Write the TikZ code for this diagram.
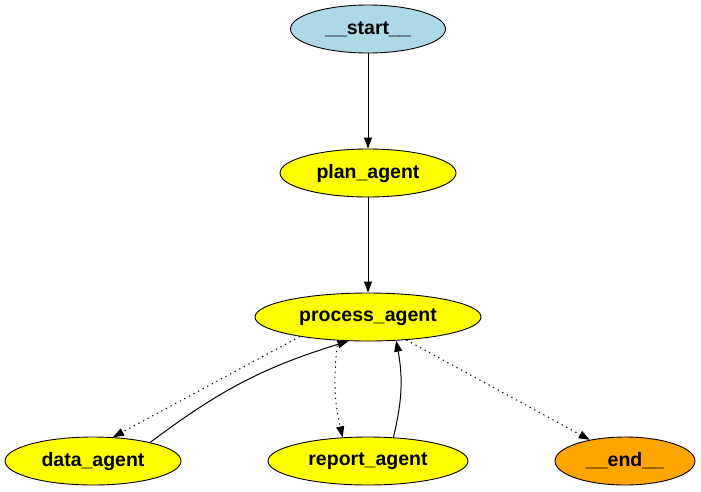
\documentclass[tikz,border=0pt]{standalone}
\usepackage{fontspec}
\setmainfont{Liberation Sans}
\usepackage{tikz}
\usetikzlibrary{arrows.meta, shapes.geometric}
\definecolor{startNode}{RGB}{173, 216, 230}
\definecolor{agentNode}{RGB}{255, 255, 0}
\definecolor{endNode}{RGB}{255, 165, 0}

\begin{document}
\begin{tikzpicture}[x=1pt, y=-1pt, >={Triangle[length=11pt, width=8pt]},
    font=\fontsize{19.5}{22}\selectfont\bfseries,
    state/.style={draw, ellipse, line width=0.9pt, inner sep=0pt, minimum height=48pt},
    flow/.style={->, line width=1pt},
    cond/.style={->, line width=1pt, dash pattern=on 1.3pt off 3.9pt}]
  \useasboundingbox (0, 0) rectangle (701, 491);

  % Entry and planning
  \node[state, fill=startNode, minimum width=155pt] (start) at (368, 29)  {\_\_start\_\_};
  \node[state, fill=agentNode, minimum width=176pt] (plan)  at (368, 173) {plan\_agent};
  \node[state, fill=agentNode, minimum width=226pt] (proc)  at (368, 317) {process\_agent};

  % Workers and exit
  \node[state, fill=agentNode, minimum width=176pt] (data)   at (93, 461)  {data\_agent};
  \node[state, fill=agentNode, minimum width=200pt] (report) at (368, 461) {report\_agent};
  \node[state, fill=endNode,   minimum width=140pt] (end)    at (625, 461) {\_\_end\_\_};

  % Fixed edges
  \draw[flow] (start) -- (plan);
  \draw[flow] (plan) -- (proc);

  % Conditional edges (dotted)
  \draw[cond] (proc.196) -- (data.50);
  \draw[cond] (proc.218) to[bend right=10] (report.137);
  \draw[cond] (proc.329) -- (end.149);

  % Return edges
  \draw[flow] (data.18) to[bend left=10] (proc.231);
  \draw[flow] (report.43) to[bend right=12] (proc.320);
\end{tikzpicture}
\end{document}
